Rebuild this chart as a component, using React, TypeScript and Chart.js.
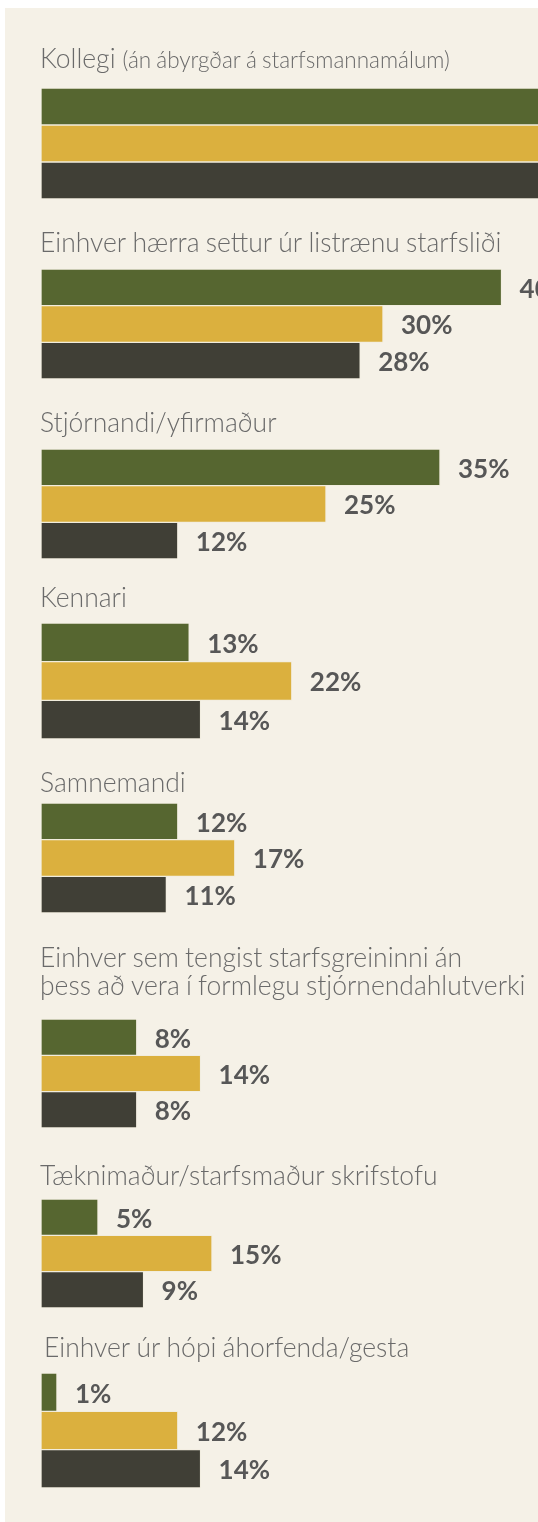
import React, { useEffect, useRef } from "react";
import { Chart, registerables } from "chart.js";

Chart.register(...registerables);

// ---------- data ----------
const categories: string[][] = [
  ["Kollegi"],
  ["Einhver hærra settur úr listrænu starfsliði"],
  ["Stjórnandi/yfirmaður"],
  ["Kennari"],
  ["Samnemandi"],
  ["Einhver sem tengist starfsgreininni án", "þess að vera í formlegu stjórnendahlutverki"],
  ["Tæknimaður/starfsmaður skrifstofu"],
  ["Einhver úr hópi áhorfenda/gesta"],
];
const categoryNotes: string[] = ["(án ábyrgðar á starfsmannamálum)", "", "", "", "", "", "", ""];

const seriesNames = ["Hópur 1", "Hópur 2", "Hópur 3"];
const seriesGreen = [60, 40.4, 35, 13, 12, 8.4, 5, 1.4];
const seriesYellow = [57, 30, 25, 22, 17, 14, 15, 12];
const seriesDark = [54, 28, 12, 14, 11, 8.4, 9, 14];

// ---------- layout / style ----------
const COLORS = ["#566630", "#dbb03e", "#403f36"];
const BG = "#f5f1e7";
const TITLE_COLOR = "#6a6a6a";
const LABEL_COLOR = "#575757";
const PANEL_LEFT = 5;
const PANEL_TOP = 8;
const PANEL_W = 533;
const PANEL_H = 1514;
const PAD_LEFT = 36;
const PX_PER_UNIT = 11.4;
const TITLE_BASELINES = [[68], [252], [432], [607], [792], [967, 995], [1185], [1357]];
const TITLE_INDENT = [0, 0, 0, 0, 0, 0, 0, 4];
const BAR_TOP = [88, 269, 449, 623, 803, 1019, 1199, 1373];
const BAR_BOTTOM = [199, 379, 559, 739, 913, 1128, 1308, 1488];
const TITLE_FONT = "300 26.5px Lato";
const NOTE_FONT = "300 22.5px Lato";
const LABEL_FONT = "700 26px Lato";

const groupTitlePlugin = {
  id: "groupTitle",
  beforeDraw(chart: any, _args: any, opts: any) {
    const ctx = chart.ctx;
    ctx.save();
    ctx.fillStyle = TITLE_COLOR;
    ctx.textBaseline = "alphabetic";
    ctx.textAlign = "left";
    try {
      (ctx as any).wordSpacing = "-1px";
    } catch (e) {}
    const lines: string[] = opts.lines || [];
    lines.forEach((line: string, k: number) => {
      const y = opts.baselines[k];
      ctx.font = TITLE_FONT;
      ctx.fillText(line, opts.x, y);
      if (k === 0 && opts.note) {
        const w = ctx.measureText(line).width;
        ctx.font = NOTE_FONT;
        ctx.fillText(opts.note, opts.x + w + 7, y);
      }
    });
    ctx.restore();
  },
};

const valueLabelPlugin = {
  id: "valueLabels",
  afterDatasetsDraw(chart: any) {
    const ctx = chart.ctx;
    ctx.save();
    ctx.font = LABEL_FONT;
    ctx.fillStyle = LABEL_COLOR;
    ctx.textBaseline = "middle";
    ctx.textAlign = "left";
    chart.data.datasets.forEach((ds: any, di: number) => {
      const meta = chart.getDatasetMeta(di);
      meta.data.forEach((bar: any, j: number) => {
        const v = ds.data[j];
        ctx.fillText(`${Math.round(v)}%`, bar.x + 18, bar.y + 2);
      });
    });
    ctx.restore();
  },
};

function GroupChart({ index }: { index: number }) {
  const ref = useRef<HTMLCanvasElement | null>(null);
  const baselines = TITLE_BASELINES[index];
  const canvasTop = baselines[0] - 32;
  const height = BAR_BOTTOM[index] - canvasTop;
  const padTop = BAR_TOP[index] - canvasTop;

  useEffect(() => {
    if (!ref.current) return;
    const values = [seriesGreen[index], seriesYellow[index], seriesDark[index]];
    const chart = new Chart(ref.current, {
      type: "bar",
      data: {
        labels: [categories[index].join(" ")],
        datasets: values.map((v, k) => ({
          label: seriesNames[k],
          data: [v],
          backgroundColor: COLORS[k],
          borderColor: "rgba(235,230,210,0.35)",
          borderWidth: 1,
          borderSkipped: false,
          barPercentage: 1,
          categoryPercentage: 1,
        })),
      },
      options: {
        indexAxis: "y",
        animation: false,
        responsive: false,
        events: [],
        layout: { padding: { top: padTop, left: PAD_LEFT, right: 0, bottom: 0 } },
        scales: {
          x: { display: false, min: 0, max: (PANEL_W - PAD_LEFT) / PX_PER_UNIT, grid: { display: false } },
          y: { display: false, grid: { display: false } },
        },
        plugins: {
          legend: { display: false },
          tooltip: { enabled: false },
          title: { display: false },
          groupTitle: {
            lines: categories[index],
            note: categoryNotes[index],
            baselines: baselines.map((b) => b - canvasTop),
            x: PAD_LEFT - 1 + TITLE_INDENT[index],
          },
        } as any,
      },
      plugins: [groupTitlePlugin, valueLabelPlugin],
    });
    return () => chart.destroy();
  }, [index]);

  return (
    <canvas
      ref={ref}
      width={PANEL_W}
      height={height}
      style={{ position: "absolute", left: 0, top: canvasTop - PANEL_TOP, width: PANEL_W, height }}
    />
  );
}

export default function App() {
  return (
    <div
      style={{
        position: "absolute",
        left: PANEL_LEFT,
        top: PANEL_TOP,
        width: PANEL_W,
        height: PANEL_H,
        background: BG,
        overflow: "hidden",
      }}
    >
      {categories.map((_, i) => (
        <GroupChart key={i} index={i} />
      ))}
    </div>
  );
}
